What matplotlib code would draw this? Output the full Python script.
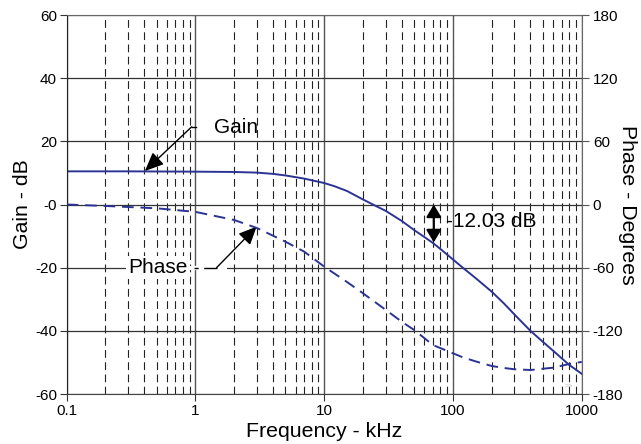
import matplotlib
matplotlib.use("Agg")
import matplotlib.pyplot as plt
from matplotlib.ticker import LogLocator, NullFormatter

plt.rcParams['font.family'] = ['Liberation Sans', 'DejaVu Sans']

# values
gain_freq = [0.1, 0.3, 1, 2, 3, 4, 5, 7, 10, 12, 15, 20, 25, 30, 40, 50, 60,
             70, 80, 100, 120, 150, 200, 250, 300, 400, 500, 600, 800, 1000]
gain_db = [10.5, 10.5, 10.4, 10.3, 10.1, 9.7, 9.2, 8.2, 6.8, 5.8, 4.3, 1.6,
           -0.4, -2.0, -5.2, -8.1, -10.3, -12.2, -14.1, -17.4, -20.1, -23.3,
           -27.6, -31.4, -34.8, -40.0, -43.5, -46.3, -50.8, -53.6]

phase_freq = [0.1, 0.2, 0.5, 1, 2, 3, 5, 7, 10, 15, 20, 30, 40, 50, 70, 100,
              120, 150, 200, 250, 300, 400, 600, 800, 1000]
phase_deg = [0.0, -1.4, -3.6, -7.0, -14.7, -22.3, -35.3, -44.8, -59.0, -73.5,
             -84.3, -100.0, -111.3, -119.2, -133.5, -141.3, -145.3, -149.0,
             -153.4, -155.3, -156.5, -157.2, -155.0, -151.5, -149.5]

x_ticks = [0.1, 1, 10, 100, 1000]
x_labels = ["0.1", "1", "10", "100", "1000"]
gain_ticks = [-60, -40, -20, 0, 20, 40, 60]
gain_labels = ["-60", "-40", "-20", "-0", "20", "40", "60"]
phase_ticks = [-180, -120, -60, 0, 60, 120, 180]
phase_labels = ["-180", "-120", "-60", "0", "60", "120", "180"]

blue = "#2b3494"

fig = plt.figure(figsize=(6.41, 4.44), dpi=100)
ax = fig.add_axes([0.104, 0.1126, 0.8035, 0.8536])
ax2 = ax.twinx()

ax.set_xscale("log")
ax.set_xlim(0.1, 1000)
ax.set_ylim(-60, 60)
ax2.set_ylim(-180, 180)

ax.set_xticks(x_ticks)
ax.set_xticklabels(x_labels)
ax.xaxis.set_minor_locator(LogLocator(base=10, subs=range(2, 10)))
ax.xaxis.set_minor_formatter(NullFormatter())
ax.set_yticks(gain_ticks)
ax.set_yticklabels(gain_labels)
ax2.set_yticks(phase_ticks)
ax2.set_yticklabels(phase_labels)

ax.tick_params(which="major", direction="out", length=5, width=0.8,
               labelsize=11, pad=2, color="#333333")
ax.tick_params(which="minor", length=0)
ax2.tick_params(direction="out", length=5, width=0.8, labelsize=11, pad=3,
                color="#555555")

# grid
ax.grid(which="major", axis="y", color="#333333", lw=0.9)
ax.grid(which="major", axis="x", color="#555555", lw=1.0)
ax.grid(which="minor", axis="x", color="#222222", lw=0.8,
        linestyle=(0, (7, 4)))
ax.set_axisbelow(True)

for s in ax2.spines.values():
    s.set_color("#666666")
ax2.spines["left"].set_color("#222222")
ax2.spines["bottom"].set_color("#444444")
for s in ax.spines.values():
    s.set_visible(False)

ax.plot(gain_freq, gain_db, color=blue, lw=1.4, zorder=3)
ax2.plot(phase_freq, phase_deg, color=blue, lw=1.4,
         linestyle=(0, (6, 3.5)), zorder=3)

ax.set_xlabel("Frequency - kHz", fontsize=15.3, labelpad=3)
ax.set_ylabel("Gain - dB", fontsize=15.3, labelpad=2)
fig.text(617.5 / 641, 0.539, "Phase - Degrees", fontsize=15.3,
         rotation=-90, ha="left", va="center")

# Gain annotation
ax.text(1.39, 24.4, "Gain", fontsize=15, ha="left", va="center", zorder=5)
ax.plot([0.935, 1.01], [24.6, 24.6], color="black", lw=1.0, zorder=5)
ax.annotate("", xy=(0.405, 10.6), xytext=(0.935, 24.6),
            arrowprops=dict(arrowstyle="-|>,head_length=1.15,head_width=0.5",
                            color="black", lw=1.0, mutation_scale=10,
                            shrinkA=0, shrinkB=0),
            zorder=5)

# Phase annotation
ax.plot([0.85, 1.75], [-20, -20], color="white", lw=3, zorder=4,
        solid_capstyle="butt")
ax.text(0.3, -20, "Phase", fontsize=15, ha="left", va="center",
        zorder=5, bbox=dict(facecolor="white", edgecolor="none", pad=1.5))
ax.plot([0.977, 1.46], [-20, -20], color="black", lw=1.0,
        linestyle=(0, (3, 4, 8, 0)), zorder=5)
ax.annotate("", xy=(2.99, -7.0), xytext=(1.46, -20),
            arrowprops=dict(arrowstyle="-|>,head_length=1.1,head_width=0.5",
                            color="black", lw=1.0, mutation_scale=10,
                            shrinkA=0, shrinkB=0),
            zorder=5)

# -12.03 dB marker
ax.annotate("", xy=(71, -12.0), xytext=(71, 0.0),
            arrowprops=dict(arrowstyle="<|-|>,head_length=0.75,head_width=0.45",
                            color="black", lw=1.6, mutation_scale=10,
                            shrinkA=0, shrinkB=0),
            zorder=5)
ax.text(88, -5.5, "-12.03 dB", fontsize=15, ha="left", va="center",
        zorder=5)

ax.text(800, -57.5, ">>", fontsize=5, color="#bbbbbb", ha="center",
        va="center")

fig.savefig("out.png", dpi=100)
